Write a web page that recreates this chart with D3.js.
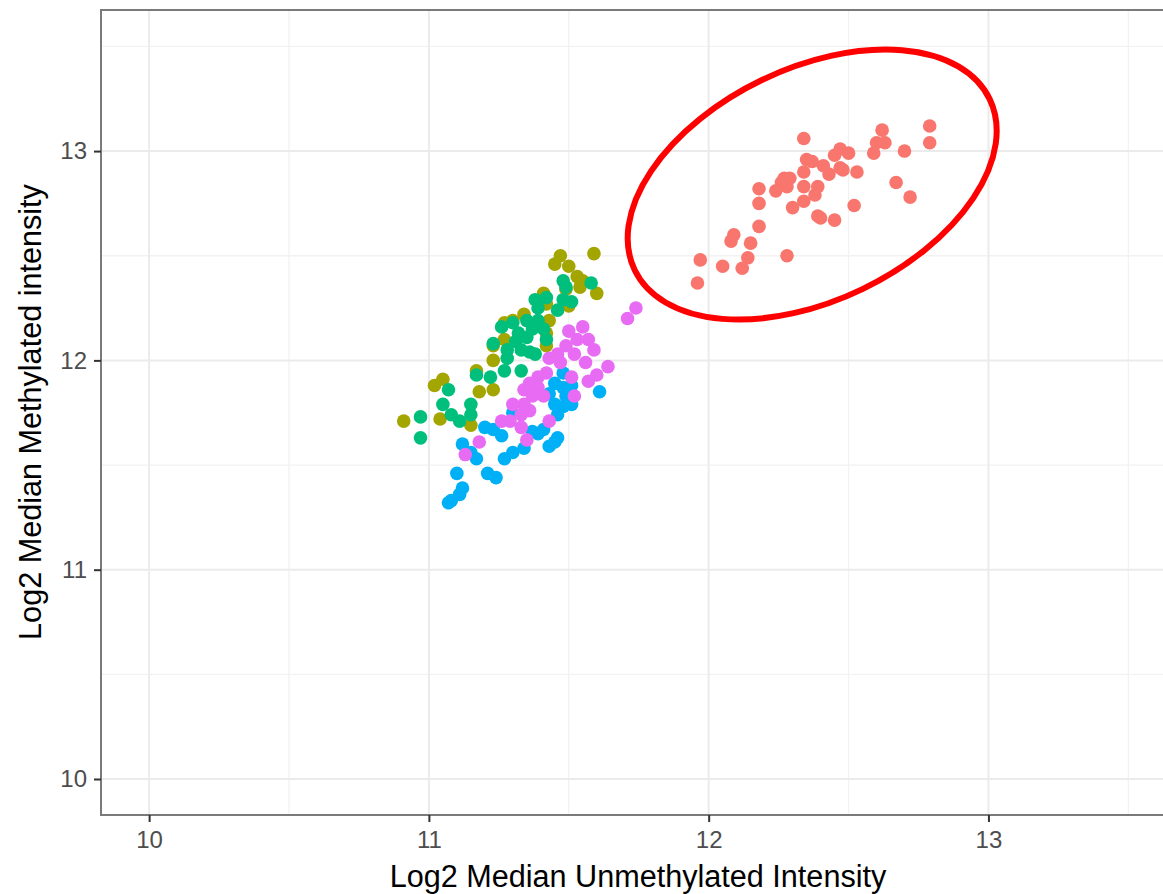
<!DOCTYPE html>
<html>
<head>
<meta charset="utf-8">
<script src="https://cdn.jsdelivr.net/npm/d3@7"></script>
<style>
  body { margin: 0; background: #fff; }
  text { font-family: "Liberation Sans", Arial, sans-serif; }
</style>
</head>
<body>
<svg id="grafiek" width="1163" height="894"></svg>
<script>
// groepen en kleuren (ggplot standaard)
const groepen = ["A", "B", "C", "D", "E"];
const kleuren = ["#F8766D", "#A3A500", "#00BF7D", "#00B0F6", "#E76BF3"];

// punten per groep: [unmethylated, methylated]
const groepA = [
  [12.34, 13.06], [12.79, 13.12], [12.79, 13.04], [12.62, 13.10], [12.60, 13.04],
  [12.63, 13.04], [12.59, 12.99], [12.70, 13.00], [12.45, 12.98], [12.47, 13.01],
  [12.50, 12.99], [12.35, 12.96], [12.37, 12.95], [12.34, 12.90], [12.41, 12.93],
  [12.43, 12.89], [12.47, 12.92], [12.48, 12.91], [12.53, 12.90], [12.67, 12.85],
  [12.72, 12.78], [12.27, 12.87], [12.29, 12.87], [12.26, 12.85], [12.28, 12.83],
  [12.24, 12.81], [12.18, 12.82], [12.18, 12.75], [12.34, 12.83], [12.39, 12.83],
  [12.38, 12.79], [12.34, 12.76], [12.30, 12.73], [12.39, 12.69], [12.40, 12.68],
  [12.45, 12.67], [12.52, 12.74], [12.18, 12.64], [12.09, 12.60], [12.08, 12.57],
  [12.15, 12.56], [12.14, 12.49], [12.12, 12.44], [12.05, 12.45], [11.97, 12.48],
  [11.96, 12.37], [12.28, 12.50]
];
const groepB = [
  [11.47, 12.50], [11.59, 12.51], [11.45, 12.46], [11.50, 12.45], [11.53, 12.40],
  [11.55, 12.38], [11.54, 12.35], [11.60, 12.32], [11.49, 12.34], [11.41, 12.32],
  [11.42, 12.27], [11.50, 12.26], [11.34, 12.22], [11.30, 12.19], [11.27, 12.18],
  [11.43, 12.19], [11.42, 12.13], [11.27, 12.10], [11.23, 12.07], [11.42, 12.07],
  [11.23, 12.00], [11.17, 11.95], [11.23, 11.86], [11.18, 11.85], [11.05, 11.91],
  [11.02, 11.88], [11.04, 11.72], [10.91, 11.71], [11.15, 11.69]
];
const groepC = [
  [11.48, 12.38], [11.58, 12.37], [11.49, 12.35], [11.38, 12.29], [11.42, 12.30],
  [11.48, 12.29], [11.51, 12.28], [11.39, 12.25], [11.46, 12.24], [11.35, 12.19],
  [11.39, 12.19], [11.30, 12.18], [11.26, 12.16], [11.37, 12.15], [11.41, 12.15],
  [11.32, 12.13], [11.35, 12.11], [11.42, 12.10], [11.23, 12.08], [11.31, 12.09],
  [11.28, 12.05], [11.33, 12.05], [11.36, 12.04], [11.38, 12.03], [11.28, 12.01],
  [11.27, 11.95], [11.33, 11.95], [11.22, 11.92], [11.17, 11.93], [11.07, 11.86],
  [11.05, 11.79], [11.15, 11.79], [11.08, 11.74], [11.11, 11.71], [11.15, 11.74],
  [10.97, 11.73], [10.97, 11.63]
];
const groepD = [
  [11.48, 11.94], [11.45, 11.89], [11.48, 11.87], [11.51, 11.88], [11.61, 11.85],
  [11.43, 11.84], [11.49, 11.83], [11.45, 11.79], [11.51, 11.79], [11.48, 11.78],
  [11.46, 11.74], [11.30, 11.75], [11.20, 11.68], [11.23, 11.67], [11.26, 11.64],
  [11.37, 11.66], [11.41, 11.67], [11.39, 11.65], [11.46, 11.63], [11.43, 11.59],
  [11.45, 11.61], [11.12, 11.60], [11.17, 11.53], [11.15, 11.56], [11.27, 11.53],
  [11.30, 11.56], [11.34, 11.58], [11.10, 11.46], [11.21, 11.46], [11.24, 11.44],
  [11.12, 11.39], [11.11, 11.36], [11.08, 11.33], [11.07, 11.32]
];
const groepE = [
  [11.74, 12.25], [11.71, 12.20], [11.50, 12.14], [11.55, 12.16], [11.57, 12.10],
  [11.53, 12.10], [11.59, 12.05], [11.49, 12.07], [11.46, 12.03], [11.43, 12.01],
  [11.52, 12.03], [11.56, 11.99], [11.64, 11.97], [11.47, 11.99], [11.42, 11.94],
  [11.39, 11.92], [11.60, 11.93], [11.57, 11.90], [11.51, 11.92], [11.36, 11.89],
  [11.34, 11.86], [11.39, 11.87], [11.41, 11.83], [11.37, 11.83], [11.34, 11.79],
  [11.30, 11.79], [11.36, 11.76], [11.33, 11.74], [11.52, 11.83], [11.29, 11.71],
  [11.26, 11.71], [11.33, 11.68], [11.43, 11.71], [11.18, 11.61], [11.35, 11.62],
  [11.13, 11.55]
];

// assen
const majorTicks = [10, 11, 12, 13];
const minorTicks = [10.5, 11.5, 12.5, 13.5];
const xTitel = "Log2 Median Unmethylated Intensity";
const yTitel = "Log2 Median Methylated intensity";

// rode ellips rond groep A (midden in data-eenheden)
const ellipsMidden = [12.37, 12.84];

const svg = d3.select("#grafiek");

// schalen
const x = d3.scaleLinear().domain([9.828, 13.674]).range([101, 1177]);
const y = d3.scaleLinear().domain([9.828, 13.674]).range([815, 10]);

// rasterlijnen
const raster = svg.append("g");
raster.selectAll(".minx").data(minorTicks).join("line")
  .attr("x1", d => x(d)).attr("x2", d => x(d)).attr("y1", 10).attr("y2", 815)
  .attr("stroke", "#F2F2F2").attr("stroke-width", 1.3);
raster.selectAll(".miny").data(minorTicks).join("line")
  .attr("x1", 101).attr("x2", 1177).attr("y1", d => y(d)).attr("y2", d => y(d))
  .attr("stroke", "#F2F2F2").attr("stroke-width", 1.3);
raster.selectAll(".majx").data(majorTicks).join("line")
  .attr("x1", d => x(d)).attr("x2", d => x(d)).attr("y1", 10).attr("y2", 815)
  .attr("stroke", "#EBEBEB").attr("stroke-width", 2);
raster.selectAll(".majy").data(majorTicks).join("line")
  .attr("x1", 101).attr("x2", 1177).attr("y1", d => y(d)).attr("y2", d => y(d))
  .attr("stroke", "#EBEBEB").attr("stroke-width", 2);

// punten
const alleGroepen = [groepA, groepB, groepC, groepD, groepE];
alleGroepen.forEach(function (punten, i) {
  svg.append("g")
    .selectAll("circle")
    .data(punten)
    .join("circle")
    .attr("cx", d => x(d[0]))
    .attr("cy", d => y(d[1]))
    .attr("r", 6.8)
    .attr("fill", kleuren[i]);
});

// paneelrand
svg.append("rect")
  .attr("x", 101).attr("y", 10).attr("width", 1076).attr("height", 805)
  .attr("fill", "none").attr("stroke", "#7a7a7a").attr("stroke-width", 2);

// x-as
const xAs = d3.axisBottom(x).tickValues(majorTicks).tickSize(7).tickPadding(9).tickFormat(d3.format("d"));
const gx = svg.append("g").attr("transform", "translate(0,815)").call(xAs);
gx.select(".domain").remove();
gx.selectAll(".tick line").attr("stroke", "#333").attr("stroke-width", 2);
gx.selectAll(".tick text").attr("fill", "#4D4D4D").style("font-size", "24px")
  .style("font-family", "'Liberation Sans', Arial, sans-serif");

// y-as
const yAs = d3.axisLeft(y).tickValues(majorTicks).tickSize(7).tickPadding(7).tickFormat(d3.format("d"));
const gy = svg.append("g").attr("transform", "translate(101,0)").call(yAs);
gy.select(".domain").remove();
gy.selectAll(".tick line").attr("stroke", "#333").attr("stroke-width", 2);
gy.selectAll(".tick text").attr("fill", "#4D4D4D").style("font-size", "24px")
  .style("font-family", "'Liberation Sans', Arial, sans-serif");

// astitels
svg.append("text")
  .attr("x", 638).attr("y", 887)
  .attr("text-anchor", "middle")
  .style("font-size", "30.6px")
  .attr("fill", "#000")
  .text(xTitel);

svg.append("text")
  .attr("transform", "translate(41,412) rotate(-90)")
  .attr("text-anchor", "middle")
  .style("font-size", "30.6px")
  .attr("fill", "#000")
  .text(yTitel);

// ellips
const ex = x(ellipsMidden[0]);
const ey = y(ellipsMidden[1]);
svg.append("ellipse")
  .attr("transform", "translate(" + ex + "," + ey + ") rotate(-25.7)")
  .attr("rx", 197).attr("ry", 116)
  .attr("fill", "none")
  .attr("stroke", "#FF0000")
  .attr("stroke-width", 6);
</script>
</body>
</html>
